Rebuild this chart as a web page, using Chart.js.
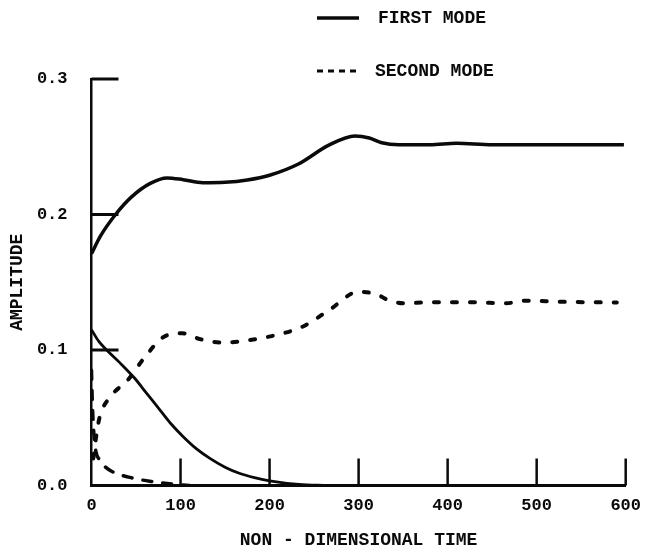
<!DOCTYPE html>
<html><head><meta charset="utf-8">
<script src="https://cdn.jsdelivr.net/npm/chart.js@4"></script>
<style>html,body{margin:0;padding:0;background:#fff}canvas{display:block}</style>
</head><body>
<canvas id="c" width="651" height="555"></canvas>
<script>
// ---- data ----
const firstUpperT = [0, 10, 27, 45, 66, 85, 103, 125, 150, 175, 200, 233, 266, 296, 312, 326, 345, 380, 410, 450, 500, 550, 598];
const firstUpperV = [0.171, 0.184, 0.200, 0.213, 0.223, 0.227, 0.2257, 0.2235, 0.2238, 0.2255, 0.229, 0.2375, 0.251, 0.258, 0.2565, 0.253, 0.2515, 0.2515, 0.2525, 0.2515, 0.2515, 0.2515, 0.2515];
const firstLowerT = [0, 8, 17, 32, 48, 62, 77, 90, 103, 118, 133, 150, 166, 183, 200, 233, 265];
const firstLowerV = [0.115, 0.1065, 0.100, 0.0905, 0.0795, 0.068, 0.0557, 0.045, 0.036, 0.027, 0.020, 0.0135, 0.009, 0.0058, 0.0035, 0.0008, 0];
const secondUpperT = [2, 5, 9, 22, 41, 59, 82, 102, 122, 148, 178, 207, 237, 267, 300, 322, 331, 351, 379, 427, 466, 487, 527, 590];
const secondUpperV = [0.020, 0.035, 0.050, 0.066, 0.078, 0.094, 0.110, 0.1123, 0.108, 0.1055, 0.1074, 0.111, 0.1172, 0.1295, 0.143, 0.1406, 0.1375, 0.1345, 0.1352, 0.1352, 0.1345, 0.1364, 0.1356, 0.135];
const secondLowerT = [0, 1, 2.5, 5, 9, 15, 24, 46, 69, 85, 110];
const secondLowerV = [0.085, 0.060, 0.040, 0.025, 0.019, 0.014, 0.010, 0.0055, 0.0028, 0.0015, 0];
const legendLabels = ['FIRST MODE', 'SECOND MODE'];
const xTickStep = 100, yTickStep = 0.1;
const xInnerTicks = [100, 200, 300, 400, 500, 600];
const yInnerTicks = [0.1, 0.2, 0.3];
const xTitle = 'NON - DIMENSIONAL TIME';
const yTitle = 'AMPLITUDE';

const pts = (t, v) => t.map((x, i) => ({x: x, y: v[i]}));
const FONT = "'Liberation Mono', 'DejaVu Sans Mono', monospace";
const INK = '#0a0a0a';

const innerTicks = {
  id: 'innerTicks',
  afterDatasetsDraw(chart) {
    const {ctx} = chart, xs = chart.scales.x, ys = chart.scales.y;
    ctx.save();
    ctx.strokeStyle = INK; ctx.lineCap = 'butt';
    ctx.lineWidth = 3;
    yInnerTicks.forEach(v => {
      const py = ys.getPixelForValue(v);
      ctx.beginPath(); ctx.moveTo(xs.left, py); ctx.lineTo(xs.left + 27, py); ctx.stroke();
    });
    ctx.lineWidth = 2.5;
    xInnerTicks.forEach(v => {
      const px = xs.getPixelForValue(v);
      ctx.beginPath(); ctx.moveTo(px, ys.bottom); ctx.lineTo(px, ys.bottom - 27); ctx.stroke();
    });
    ctx.restore();
  }
};

const customLegend = {
  id: 'customLegend',
  afterDraw(chart) {
    const {ctx} = chart;
    ctx.save();
    ctx.fillStyle = INK; ctx.strokeStyle = INK;
    ctx.font = "bold 18px " + FONT;
    ctx.textBaseline = 'middle'; ctx.textAlign = 'left';
    const rows = [{y: 18, dash: [], w: 3.5, tx: 378}, {y: 71, dash: [6, 5], w: 3, tx: 375}];
    rows.forEach((r, i) => {
      ctx.lineWidth = r.w; ctx.setLineDash(r.dash);
      ctx.beginPath(); ctx.moveTo(317, r.y); ctx.lineTo(359, r.y); ctx.stroke();
      ctx.setLineDash([]);
      ctx.fillText(legendLabels[i], r.tx, r.y);
    });
    ctx.restore();
  }
};

const tickFont = {family: FONT, weight: 'bold', size: 17};
const titleFont = {family: FONT, weight: 'bold', size: 18};

new Chart(document.getElementById('c'), {
  type: 'line',
  data: {
    datasets: [
      {label: legendLabels[0], data: pts(firstUpperT, firstUpperV), borderColor: INK, borderWidth: 3.5, cubicInterpolationMode: 'monotone', fill: false},
      {label: legendLabels[0], data: pts(firstLowerT, firstLowerV), borderColor: INK, borderWidth: 2.8, cubicInterpolationMode: 'monotone', fill: false},
      {label: legendLabels[1], data: pts(secondUpperT, secondUpperV), borderColor: INK, borderWidth: 4, borderDash: [5, 13], borderCapStyle: 'round', cubicInterpolationMode: 'monotone', fill: false},
      {label: legendLabels[1], data: pts(secondLowerT, secondLowerV), borderColor: INK, borderWidth: 3.5, borderDash: [9, 11], borderCapStyle: 'round', cubicInterpolationMode: 'monotone', fill: false}
    ]
  },
  options: {
    responsive: false, animation: false, devicePixelRatio: 1,
    layout: {padding: {top: 79, right: 19, bottom: 0, left: 0}},
    elements: {point: {radius: 0}},
    plugins: {legend: {display: false}, tooltip: {enabled: false}},
    scales: {
      x: {
        type: 'linear', min: 0, max: 600,
        afterFit(s) { s.height = 69.5; },
        grid: {display: false, drawTicks: false},
        border: {display: true, color: INK, width: 3},
        ticks: {stepSize: xTickStep, padding: 10, color: INK, font: tickFont, maxRotation: 0},
        title: {display: true, text: xTitle, color: INK, font: titleFont, padding: {top: 0, bottom: 4}}
      },
      y: {
        type: 'linear', min: 0, max: 0.3,
        afterFit(s) { s.width = 91.5; },
        grid: {display: false, drawTicks: false},
        border: {display: true, color: INK, width: 2.5},
        ticks: {stepSize: yTickStep, padding: 24, color: INK, font: tickFont, callback: v => v.toFixed(1)},
        title: {display: true, text: yTitle, color: INK, font: titleFont, padding: {top: 7, bottom: 0}}
      }
    }
  },
  plugins: [innerTicks, customLegend]
});
</script>
</body></html>
